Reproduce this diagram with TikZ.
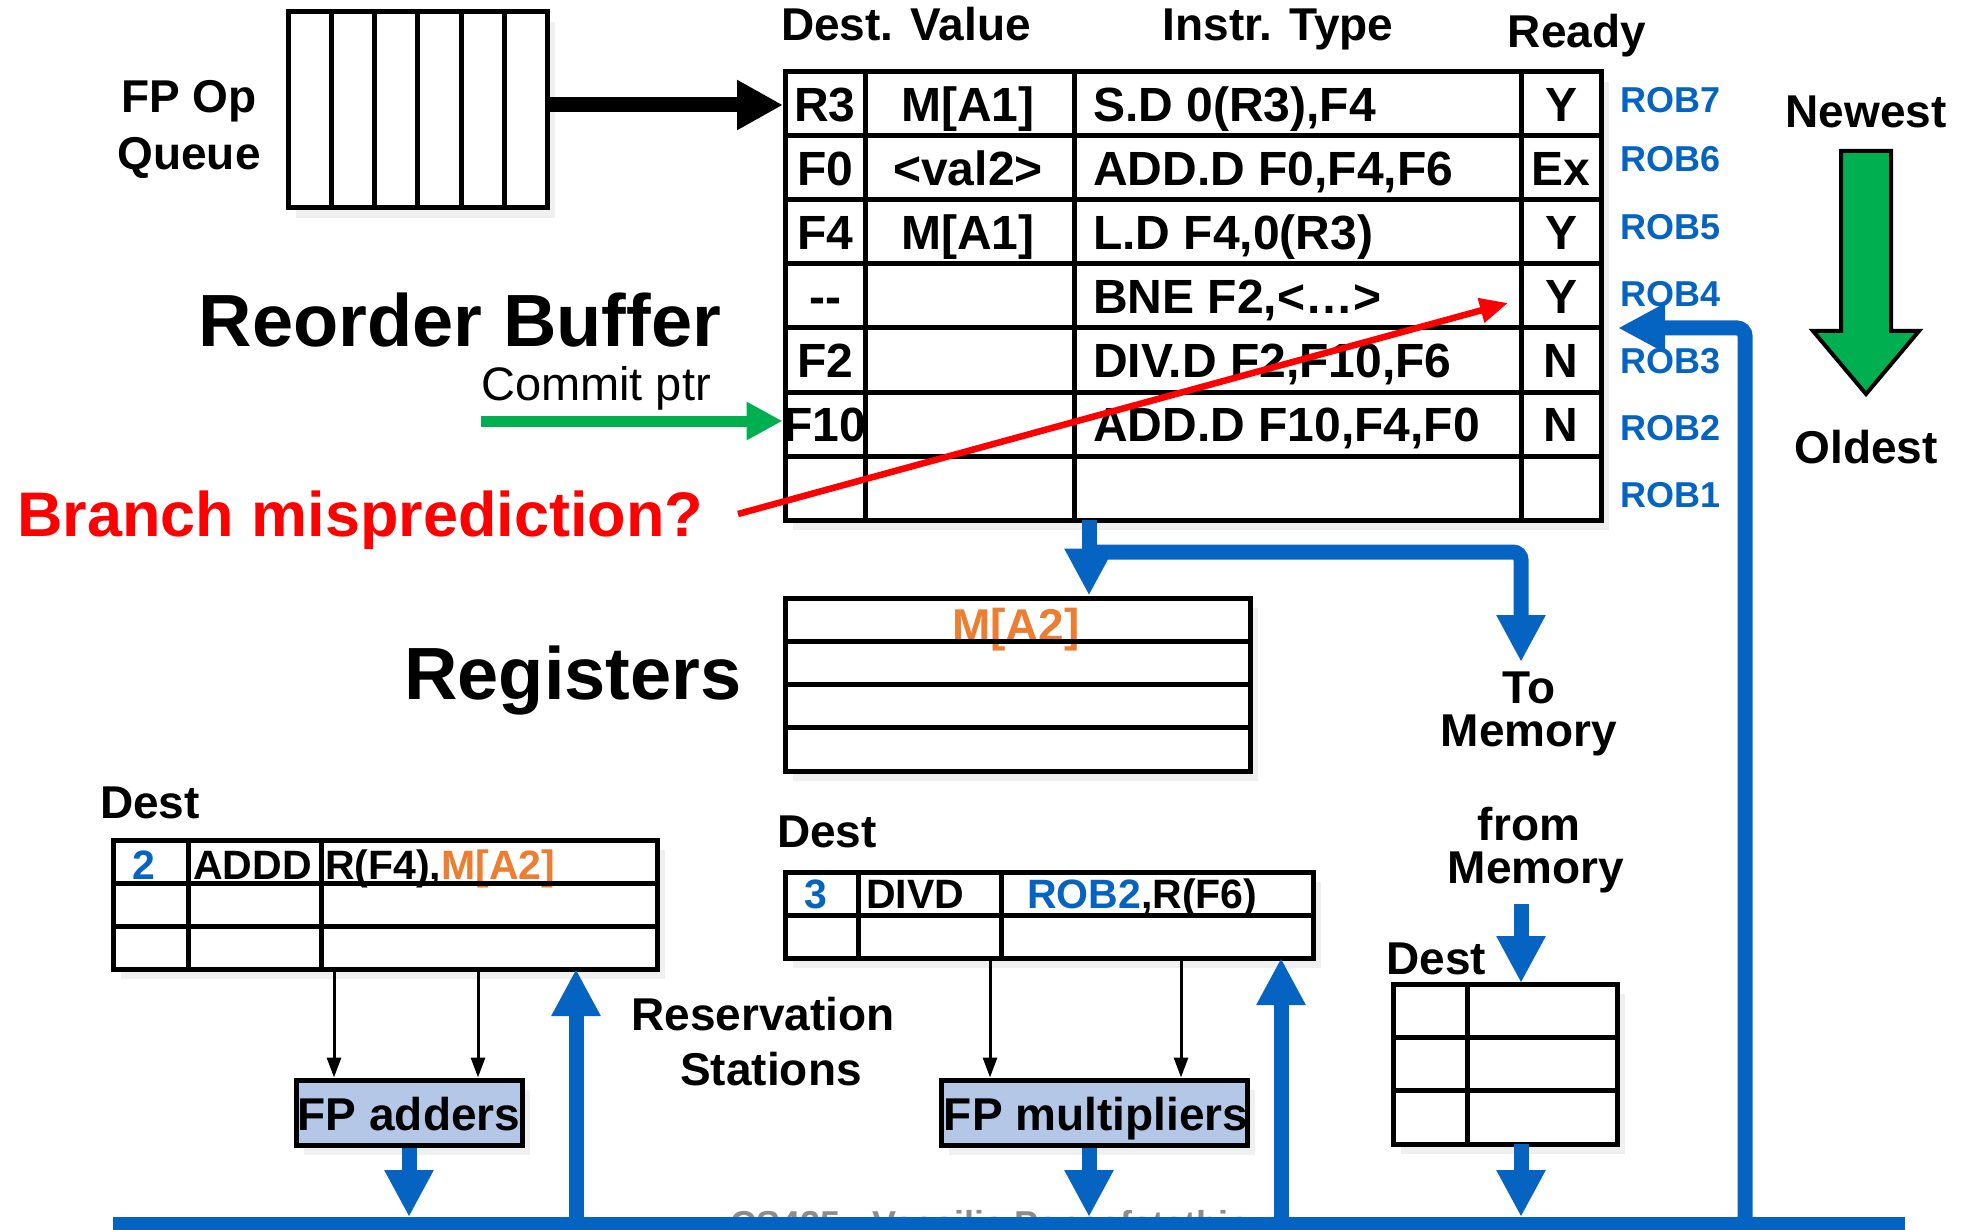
\documentclass[tikz,border=0pt]{standalone}
\usepackage{fontspec}
\setmainfont{Liberation Sans}
\usetikzlibrary{arrows.meta,shadows}

\definecolor{robblue}{RGB}{5,99,193}
\definecolor{mgreen}{RGB}{0,176,80}
\definecolor{morange}{RGB}{237,125,49}
\definecolor{unitfill}{RGB}{180,199,231}

\tikzset{
  tablebox/.style={draw, line width=5pt, fill=white, inner sep=0pt,
    drop shadow={opacity=0.12, shadow xshift=8pt, shadow yshift=-10pt}},
  unitbox/.style={tablebox, fill=unitfill},
  tabline/.style={line width=5pt},
  bigtitle/.style={font=\fontsize{74}{80}\selectfont\bfseries, anchor=base, inner sep=0pt},
  lbl/.style={font=\fontsize{46}{50}\selectfont\bfseries, anchor=base, inner sep=0pt},
  celltxt/.style={font=\fontsize{48}{52}\selectfont\bfseries, anchor=base, inner sep=0pt},
  rstxt/.style={font=\fontsize{41}{45}\selectfont\bfseries, anchor=base west, inner sep=0pt},
  roblbl/.style={font=\fontsize{36}{40}\selectfont\bfseries, text=robblue, anchor=base west, inner sep=0pt},
  busline/.style={draw=robblue, line width=15pt},
  bus/.style={busline, -{Triangle[length=47pt,width=46pt]}},
  feed/.style={line width=3pt, -{Triangle[length=20pt,width=14pt]}},
}

\begin{document}
\begin{tikzpicture}[x=1pt, y=-1pt]
  \useasboundingbox (0,0) rectangle (1969,1230);

  % FP Op Queue
  \node[tablebox, minimum width=259pt, minimum height=196pt] (queue) at (417.5,110) {};
  \draw[tabline] (331,12) -- (331,208);
  \draw[tabline] (374,12) -- (374,208);
  \draw[tabline] (417,12) -- (417,208);
  \draw[tabline] (461,12) -- (461,208);
  \draw[tabline] (504,12) -- (504,208);
  \node[lbl] (fpop) at (189,112.5) {FP Op};
  \node[lbl] (fpqueue) at (189,169.5) {Queue};

  % Reorder buffer
  \node[tablebox, minimum width=816pt, minimum height=448pt] (rob) at (1193,296) {};
  \node[lbl] (hdest) at (906,41) {Dest. Value};
  \node[lbl] (hinstr) at (1278,41) {Instr. Type};
  \node[lbl] (hready) at (1577,48) {Ready};

  \node[celltxt] (d7) at (825,121.5) {R3};
  \node[celltxt] (v7) at (968,121.5) {M[A1]};
  \node[celltxt, anchor=base west] (i7) at (1093,121.5) {S.D 0(R3),F4};
  \node[celltxt] (y7) at (1561,121.5) {Y};

  \node[celltxt] (d6) at (825,185.5) {F0};
  \node[celltxt] (v6) at (968,185.5) {<val2>};
  \node[celltxt, anchor=base west] (i6) at (1093,185.5) {ADD.D F0,F4,F6};
  \node[celltxt] (y6) at (1561,185.5) {Ex};

  \node[celltxt] (d5) at (825,249.5) {F4};
  \node[celltxt] (v5) at (968,249.5) {M[A1]};
  \node[celltxt, anchor=base west] (i5) at (1093,249.5) {L.D F4,0(R3)};
  \node[celltxt] (y5) at (1561,249.5) {Y};

  \node[celltxt] (d4) at (825,313.5) {-{}-};
  \node[celltxt, anchor=base west] (i4) at (1093,313.5) {BNE F2,<…>};
  \node[celltxt] (y4) at (1561,313.5) {Y};

  \node[celltxt] (d3) at (825,377.5) {F2};
  \node[celltxt, anchor=base west] (i3) at (1093,377.5) {DIV.D F2,F10,F6};
  \node[celltxt] (y3) at (1561,377.5) {N};

  \node[celltxt] (d2) at (825,441.5) {F10};
  \node[celltxt, anchor=base west] (i2) at (1093,441.5) {ADD.D F10,F4,F0};
  \node[celltxt] (y2) at (1561,441.5) {N};

  \draw[tabline] (785,136) -- (1601,136);
  \draw[tabline] (785,200) -- (1601,200);
  \draw[tabline] (785,264) -- (1601,264);
  \draw[tabline] (785,328) -- (1601,328);
  \draw[tabline] (785,392) -- (1601,392);
  \draw[tabline] (785,456) -- (1601,456);
  \draw[tabline] (865,72) -- (865,520);
  \draw[tabline] (1074,72) -- (1074,520);
  \draw[tabline] (1521,72) -- (1521,520);

  \node[roblbl] (rob7) at (1620,112.5) {ROB7};
  \node[roblbl] (rob6) at (1620,171.5) {ROB6};
  \node[roblbl] (rob5) at (1620,240) {ROB5};
  \node[roblbl] (rob4) at (1620,307) {ROB4};
  \node[roblbl] (rob3) at (1620,373) {ROB3};
  \node[roblbl] (rob2) at (1620,440) {ROB2};
  \node[roblbl] (rob1) at (1620,507) {ROB1};

  % Newest / Oldest
  \node[lbl] (newest) at (1866,127.5) {Newest};
  \node[lbl] (oldest) at (1866,463) {Oldest};
  \draw[line width=4pt, fill=mgreen] (1841,151) -- (1891,151) -- (1891,331) -- (1919,331)
    -- (1866,394) -- (1813,331) -- (1841,331) -- cycle;

  \node[bigtitle] (robtitle) at (460,346) {Reorder Buffer};
  \node[font=\fontsize{47}{50}\selectfont, anchor=base, inner sep=0pt] (commit) at (596,400) {Commit ptr};
  \node[font=\fontsize{63}{68}\selectfont\bfseries, text=red, anchor=base west, inner sep=0pt]
    (mispred) at (17,536) {Branch misprediction?};

  % Registers
  \node[tablebox, minimum width=465pt, minimum height=173pt] (regs) at (1017.5,684.5) {};
  \node[lbl, text=morange] (rega2) at (1016,641) {M[A2]};
  \draw[tabline] (785,641.5) -- (1250,641.5);
  \draw[tabline] (785,684.5) -- (1250,684.5);
  \draw[tabline] (785,727.5) -- (1250,727.5);
  \node[bigtitle] (regtitle) at (573,699) {Registers};

  % reservation station: adders
  \node[lbl, anchor=base west] (dest1) at (100,818) {Dest};
  \node[tablebox, minimum width=544pt, minimum height=129pt] (rs1) at (385,904.5) {};
  \node[rstxt, anchor=base, text=robblue] (rs1tag) at (144,879) {2};
  \node[rstxt] (rs1op) at (193,879) {ADDD};
  \node[rstxt] (rs1src) at (325,879) {R(F4),\textcolor{morange}{M[A2]}};
  \draw[tabline] (113,883) -- (657,883);
  \draw[tabline] (113,926) -- (657,926);
  \draw[tabline] (188,840) -- (188,969);
  \draw[tabline] (321,840) -- (321,969);

  % reservation station: multipliers
  \node[lbl, anchor=base west] (dest2) at (777,847) {Dest};
  \node[tablebox, minimum width=528pt, minimum height=86pt] (rs2) at (1049,915) {};
  \node[rstxt, anchor=base, text=robblue] (rs2tag) at (816,908) {3};
  \node[rstxt] (rs2op) at (866,908) {DIVD};
  \node[rstxt] (rs2src) at (1027,908) {\textcolor{robblue}{ROB2},R(F6)};
  \draw[tabline] (785,915) -- (1313,915);
  \draw[tabline] (858,872) -- (858,958);
  \draw[tabline] (1001,872) -- (1001,958);

  \node[lbl] (resv) at (763,1030) {Reservation};
  \node[lbl] (stat) at (771,1085.5) {Stations};

  % load buffer
  \node[lbl, anchor=base west] (dest3) at (1386,974) {Dest};
  \node[tablebox, minimum width=224pt, minimum height=160pt] (lbuf) at (1505,1064) {};
  \draw[tabline] (1393,1037) -- (1617,1037);
  \draw[tabline] (1393,1090.5) -- (1617,1090.5);
  \draw[tabline] (1467,984) -- (1467,1144);

  \node[lbl] (to) at (1529,703) {To};
  \node[lbl] (tomem) at (1529,746) {Memory};
  \node[lbl] (from) at (1529,840) {from};
  \node[lbl] (frommem) at (1536,883) {Memory};

  % functional units
  \node[unitbox, minimum width=226pt, minimum height=65pt] (adders) at (409,1112.5) {};
  \node[lbl] (addtxt) at (409,1130.5) {FP adders};
  \node[unitbox, minimum width=306pt, minimum height=65pt] (mults) at (1094,1112.5) {};
  \node[lbl] (multtxt) at (1096,1130.5) {FP multipliers};

  % footer, mostly under the bus
  \node[font=\fontsize{36}{40}\selectfont\bfseries, text=black!45, anchor=base west, inner sep=0pt]
    (footer) at (730,1236) {CS425 - Vassilis Papaefstathiou};

  % connector points
  \coordinate (qout) at (547,105);
  \coordinate (robin) at (783,105);
  \coordinate (cstart) at (481,421);
  \coordinate (bstart) at (738,514);
  \coordinate (bend) at (1508,303);
  \coordinate (robout) at (1089,520);
  \coordinate (split) at (1089,552);
  \coordinate (memtip) at (1521,662);
  \coordinate (memin) at (1521,904);
  \coordinate (lbin) at (1521,983);
  \coordinate (lbout) at (1521,1144);
  \coordinate (busL) at (113,1224);
  \coordinate (busR) at (1905,1224);
  \coordinate (bustop) at (0,1217);
  \coordinate (rs1in) at (576,969);
  \coordinate (rs2in) at (1281,958);
  \coordinate (cdbup) at (1745,328);
  \coordinate (robtip) at (1618,328);
  \coordinate (a1) at (334,969);
  \coordinate (a2) at (478,969);
  \coordinate (m1) at (990,958);
  \coordinate (m2) at (1181,958);

  % arrows
  \draw[line width=15pt, -{Triangle[length=46pt,width=47pt]}] (qout) -- (robin);
  \draw[draw=mgreen, line width=11pt, -{Triangle[length=36pt,width=36pt]}] (cstart) -- (rob.west |- cstart);
  \draw[draw=red, line width=6.5pt, -{Triangle[length=28pt,width=24pt]}] (bstart) -- (bend);

  \draw[bus] (robout) -- (robout |- regs.north);
  \draw[bus, rounded corners=8pt] (split) -- (split -| memtip) -- (memtip);
  \draw[bus] (memin) -- (lbin);

  \draw[feed] (a1) -- (a1 |- adders.north);
  \draw[feed] (a2) -- (a2 |- adders.north);
  \draw[feed] (m1) -- (m1 |- mults.north);
  \draw[feed] (m2) -- (m2 |- mults.north);

  \draw[busline] (busL) -- (busR);
  \draw[bus] (adders.south) -- (adders.south |- bustop);
  \draw[bus] ([xshift=-5pt]mults.south) -- ([xshift=-5pt]mults.south |- bustop);
  \draw[bus] (lbout) -- (lbout |- bustop);
  \draw[bus] (rs1in |- busL) -- (rs1in);
  \draw[bus] (rs2in |- busL) -- (rs2in);
  \draw[bus, rounded corners=8pt] (cdbup |- busL) -- (cdbup) -- (robtip);
\end{tikzpicture}
\end{document}
